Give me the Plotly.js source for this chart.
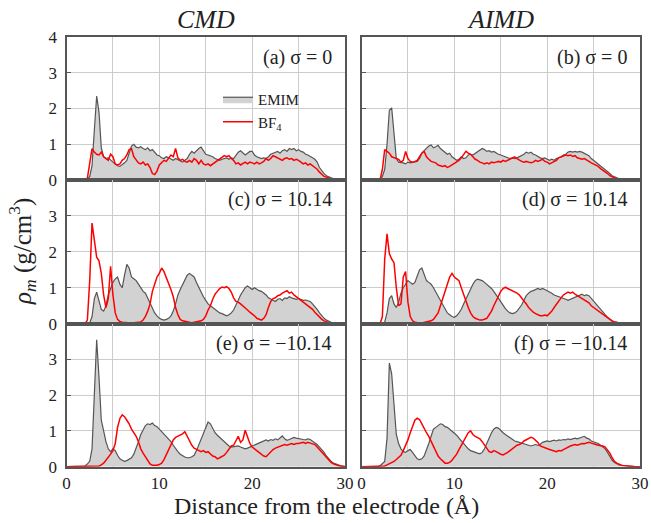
<!DOCTYPE html>
<html>
<head>
<meta charset="utf-8">
<script src="https://cdn.plot.ly/plotly-3.0.1.min.js"></script>
<style>html,body{margin:0;padding:0;background:#fff;}#chart{width:651px;height:523px;}</style>
</head>
<body>
<div id="chart"></div>
<script>
// Distance from the electrode (Å)
const X = [0,0.25,0.5,0.75,1,1.25,1.5,1.75,2,2.25,2.5,2.75,3,3.25,3.5,3.75,4,4.25,4.5,4.75,
5,5.25,5.5,5.75,6,6.25,6.5,6.75,7,7.25,7.5,7.75,8,8.25,8.5,8.75,9,9.25,9.5,9.75,
10,10.25,10.5,10.75,11,11.25,11.5,11.75,12,12.25,12.5,12.75,13,13.25,13.5,13.75,14,14.25,14.5,14.75,
15,15.25,15.5,15.75,16,16.25,16.5,16.75,17,17.25,17.5,17.75,18,18.25,18.5,18.75,19,19.25,19.5,19.75,
20,20.25,20.5,20.75,21,21.25,21.5,21.75,22,22.25,22.5,22.75,23,23.25,23.5,23.75,24,24.25,24.5,24.75,
25,25.25,25.5,25.75,26,26.25,26.5,26.75,27,27.25,27.5,27.75,28,28.25,28.5,28.75,29,29.25,29.5,29.75,30];

// (a) CMD, sigma = 0
const A_EMIM = [0,0,0,0,0,0,0,0,0,0.02,0.1,0.4,1.4,2.35,1.9,0.9,0.65,0.6,0.62,0.55,
0.5,0.45,0.4,0.38,0.42,0.48,0.55,0.75,0.95,1.0,0.92,0.9,0.93,0.88,0.85,0.9,0.82,0.85,0.78,0.7,
0.68,0.62,0.6,0.65,0.62,0.58,0.55,0.6,0.56,0.52,0.5,0.55,0.6,0.72,0.8,0.75,0.82,0.88,0.92,0.8,
0.72,0.7,0.68,0.65,0.6,0.58,0.55,0.58,0.6,0.62,0.58,0.62,0.6,0.7,0.78,0.82,0.75,0.7,0.75,0.8,
0.8,0.7,0.65,0.62,0.6,0.62,0.6,0.65,0.72,0.75,0.78,0.8,0.75,0.82,0.85,0.8,0.88,0.85,0.88,0.82,
0.85,0.8,0.78,0.72,0.7,0.65,0.62,0.58,0.5,0.35,0.25,0.18,0.12,0.08,0.06,0.04,0.03,0.02,0.01,0,0];
const A_BF4 = [0,0,0,0,0,0,0,0,0,0.05,0.5,0.88,0.78,0.72,0.7,0.78,0.65,0.6,0.55,0.72,
0.65,0.45,0.42,0.45,0.55,0.6,0.7,0.85,0.88,0.65,0.55,0.48,0.45,0.5,0.42,0.45,0.35,0.18,0.15,0.25,
0.42,0.5,0.55,0.52,0.6,0.7,0.65,0.88,0.62,0.55,0.58,0.52,0.5,0.55,0.5,0.6,0.55,0.45,0.55,0.45,
0.42,0.45,0.4,0.45,0.48,0.55,0.6,0.65,0.68,0.65,0.68,0.6,0.55,0.45,0.48,0.42,0.45,0.5,0.45,0.5,
0.48,0.45,0.5,0.45,0.48,0.52,0.6,0.55,0.6,0.68,0.65,0.62,0.6,0.55,0.6,0.62,0.58,0.6,0.55,0.58,
0.55,0.5,0.45,0.48,0.42,0.45,0.4,0.35,0.3,0.22,0.15,0.1,0.08,0.05,0.03,0.02,0.01,0,0,0,0];

// (b) AIMD, sigma = 0
const B_EMIM = [0,0,0,0,0,0,0,0,0.02,0.1,0.3,1.0,1.95,2.02,1.2,0.6,0.5,0.5,0.48,0.45,
0.5,0.48,0.5,0.5,0.52,0.6,0.75,0.82,0.88,0.95,0.98,0.9,0.93,0.97,0.88,0.82,0.78,0.72,0.75,0.65,
0.6,0.55,0.58,0.65,0.6,0.62,0.7,0.72,0.7,0.75,0.8,0.85,0.88,0.85,0.8,0.82,0.78,0.8,0.75,0.72,
0.7,0.68,0.65,0.62,0.6,0.62,0.6,0.62,0.65,0.68,0.72,0.78,0.75,0.78,0.72,0.7,0.65,0.62,0.6,0.62,
0.58,0.55,0.58,0.55,0.6,0.62,0.65,0.7,0.72,0.78,0.8,0.78,0.8,0.78,0.8,0.78,0.75,0.72,0.68,0.6,
0.55,0.5,0.45,0.4,0.35,0.3,0.25,0.18,0.12,0.08,0.06,0.04,0.03,0.02,0.01,0.01,0,0,0,0,0];
const B_BF4 = [0,0,0,0,0,0,0,0,0,0.3,0.85,0.8,0.75,0.65,0.62,0.6,0.58,0.5,0.55,0.8,
0.6,0.52,0.5,0.52,0.55,0.65,0.75,0.8,0.65,0.58,0.52,0.5,0.48,0.42,0.4,0.38,0.4,0.35,0.38,0.42,
0.45,0.5,0.55,0.62,0.72,0.8,0.75,0.72,0.65,0.58,0.55,0.5,0.48,0.45,0.48,0.45,0.5,0.48,0.5,0.52,
0.5,0.55,0.52,0.55,0.58,0.62,0.65,0.6,0.55,0.52,0.5,0.52,0.5,0.48,0.5,0.55,0.52,0.55,0.58,0.52,
0.5,0.45,0.48,0.5,0.55,0.62,0.65,0.68,0.7,0.68,0.7,0.66,0.68,0.62,0.6,0.58,0.6,0.55,0.52,0.48,
0.45,0.42,0.38,0.32,0.28,0.22,0.18,0.12,0.08,0.06,0.04,0.03,0.02,0.02,0.01,0.01,0,0,0,0,0];

// (c) CMD, sigma = 10.14
const C_EMIM = [0,0,0,0,0,0,0,0,0,0,0.02,0.2,0.7,0.88,0.6,0.4,0.35,0.5,0.8,1.0,
1.15,1.25,1.3,1.1,1.0,1.35,1.65,1.55,1.3,1.25,1.2,1.1,1.0,0.9,0.85,0.7,0.55,0.42,0.3,0.22,
0.15,0.12,0.1,0.12,0.15,0.22,0.35,0.55,0.8,0.95,1.1,1.25,1.35,1.4,1.35,1.3,1.15,1.0,0.85,0.75,
0.65,0.55,0.5,0.45,0.4,0.35,0.3,0.28,0.25,0.22,0.25,0.3,0.38,0.5,0.65,0.8,0.92,1.0,1.05,1.0,
0.95,1.0,0.95,0.92,0.9,0.85,0.8,0.72,0.68,0.65,0.62,0.68,0.7,0.65,0.72,0.7,0.75,0.72,0.7,0.68,
0.7,0.68,0.65,0.66,0.65,0.62,0.55,0.48,0.4,0.3,0.22,0.15,0.1,0.06,0.04,0.03,0.02,0.01,0,0,0];
const C_BF4 = [0,0,0,0,0,0,0,0,0,0.1,1.2,2.8,2.3,1.85,1.75,1.4,0.8,0.45,0.7,1.6,
0.8,0.3,0.12,0.06,0.04,0.03,0.02,0.02,0.02,0.03,0.04,0.04,0.05,0.1,0.2,0.35,0.55,0.9,1.1,1.3,
1.4,1.55,1.45,1.3,1.15,0.95,0.75,0.45,0.25,0.12,0.08,0.06,0.05,0.04,0.03,0.04,0.05,0.06,0.08,0.12,
0.22,0.38,0.5,0.68,0.82,0.9,0.98,1.02,1.0,1.03,0.98,0.88,0.72,0.62,0.6,0.55,0.5,0.45,0.38,0.32,
0.28,0.22,0.15,0.12,0.1,0.15,0.25,0.45,0.62,0.7,0.72,0.78,0.8,0.85,0.88,0.92,0.85,0.88,0.8,0.75,
0.7,0.65,0.6,0.55,0.5,0.45,0.4,0.32,0.25,0.18,0.12,0.08,0.05,0.03,0.02,0.01,0,0,0,0,0];

// (d) AIMD, sigma = 10.14
const D_EMIM = [0,0,0,0,0,0,0,0,0,0,0.05,0.3,0.7,0.78,0.55,0.45,0.6,0.85,1.0,1.1,
1.2,1.15,1.1,1.15,1.3,1.5,1.55,1.35,1.2,1.15,1.1,1.0,0.88,0.75,0.62,0.5,0.4,0.3,0.25,0.2,
0.18,0.22,0.3,0.4,0.55,0.7,0.85,1.0,1.1,1.2,1.24,1.22,1.2,1.15,1.1,1.05,0.98,0.9,0.8,0.7,
0.6,0.5,0.42,0.35,0.3,0.28,0.3,0.35,0.42,0.52,0.65,0.78,0.85,0.9,0.92,0.95,0.98,0.95,0.98,0.95,
0.92,0.9,0.85,0.8,0.78,0.75,0.72,0.7,0.68,0.65,0.68,0.7,0.72,0.75,0.78,0.82,0.78,0.8,0.78,0.7,
0.62,0.55,0.48,0.4,0.32,0.25,0.18,0.12,0.08,0.05,0.03,0.02,0.01,0.01,0,0,0,0,0,0,0];
const D_BF4 = [0,0,0,0,0,0,0,0,0,0.2,1.8,2.5,1.95,1.8,1.7,1.0,0.5,0.55,1.3,1.45,
0.6,0.2,0.08,0.04,0.02,0.02,0.02,0.03,0.04,0.06,0.08,0.12,0.2,0.3,0.5,0.7,0.9,1.15,1.3,1.4,
1.3,1.25,1.2,1.0,0.8,0.65,0.45,0.3,0.2,0.15,0.12,0.1,0.1,0.12,0.15,0.25,0.35,0.5,0.65,0.8,
0.9,0.98,1.02,0.98,0.95,0.92,0.9,0.85,0.8,0.72,0.65,0.55,0.45,0.38,0.32,0.28,0.25,0.22,0.22,0.24,
0.22,0.28,0.35,0.45,0.55,0.65,0.72,0.8,0.85,0.88,0.85,0.88,0.82,0.78,0.75,0.7,0.68,0.62,0.58,0.5,
0.45,0.4,0.35,0.3,0.25,0.2,0.15,0.1,0.07,0.05,0.03,0.02,0.01,0,0,0,0,0,0,0,0];

// (e) CMD, sigma = -10.14
const E_EMIM = [0,0,0,0,0,0,0,0,0.02,0.08,0.15,0.5,2.2,3.55,2.5,1.3,1.0,0.7,0.5,0.42,
0.5,0.45,0.32,0.22,0.18,0.15,0.17,0.2,0.25,0.35,0.5,0.7,0.9,1.05,1.15,1.2,1.18,1.22,1.15,1.12,
1.05,0.98,0.92,0.85,0.78,0.7,0.6,0.5,0.42,0.35,0.3,0.27,0.25,0.25,0.28,0.32,0.45,0.6,0.8,0.95,
1.1,1.25,1.2,1.05,0.95,0.88,0.82,0.75,0.7,0.62,0.58,0.55,0.56,0.55,0.58,0.55,0.52,0.5,0.52,0.55,
0.58,0.62,0.65,0.68,0.7,0.72,0.75,0.72,0.76,0.74,0.78,0.75,0.8,0.86,0.78,0.74,0.76,0.8,0.82,0.8,
0.78,0.78,0.76,0.75,0.78,0.76,0.72,0.68,0.62,0.55,0.48,0.4,0.3,0.22,0.15,0.1,0.07,0.05,0.03,0.02,0.01];
const E_BF4 = [0,0,0,0,0,0,0,0,0,0,0,0,0,0,0.02,0.05,0.1,0.18,0.25,0.35,
0.45,0.65,1.1,1.35,1.45,1.4,1.3,1.2,1.05,0.95,0.85,0.7,0.5,0.38,0.28,0.18,0.08,0.04,0.03,0.04,
0.06,0.1,0.2,0.35,0.5,0.62,0.75,0.82,0.85,0.9,0.92,0.98,0.85,0.72,0.6,0.52,0.48,0.45,0.42,0.45,
0.4,0.42,0.35,0.3,0.28,0.22,0.25,0.28,0.32,0.4,0.5,0.58,0.6,0.72,0.85,0.68,0.75,1.02,0.8,0.65,
0.55,0.5,0.45,0.4,0.35,0.3,0.28,0.35,0.42,0.48,0.52,0.55,0.58,0.6,0.62,0.6,0.62,0.65,0.62,0.65,
0.65,0.66,0.68,0.65,0.68,0.66,0.65,0.62,0.55,0.48,0.4,0.32,0.25,0.18,0.12,0.08,0.05,0.03,0.02,0.01,0];

// (f) AIMD, sigma = -10.14
const F_EMIM = [0,0,0,0,0,0,0,0,0.03,0.08,0.15,0.8,2.9,2.6,1.6,0.9,0.65,0.5,0.42,0.4,
0.45,0.48,0.4,0.3,0.22,0.2,0.22,0.3,0.45,0.65,0.85,1.05,1.1,1.15,1.2,1.18,1.12,1.1,1.05,1.0,
0.95,0.88,0.8,0.72,0.65,0.55,0.5,0.45,0.42,0.4,0.38,0.36,0.4,0.5,0.65,0.82,0.95,1.05,1.1,1.08,
1.0,0.95,0.9,0.85,0.8,0.75,0.72,0.7,0.68,0.65,0.62,0.6,0.6,0.58,0.6,0.62,0.6,0.62,0.68,0.7,
0.72,0.7,0.72,0.74,0.72,0.75,0.74,0.76,0.75,0.78,0.76,0.78,0.8,0.78,0.8,0.82,0.85,0.8,0.78,0.72,
0.7,0.68,0.65,0.6,0.55,0.5,0.4,0.28,0.18,0.12,0.08,0.05,0.04,0.03,0.02,0.01,0,0,0,0,0];
const F_BF4 = [0,0,0,0,0,0,0,0,0,0,0.02,0.05,0.08,0.12,0.15,0.2,0.25,0.32,0.45,0.58,
0.75,0.95,1.15,1.3,1.36,1.32,1.2,1.05,0.95,0.85,0.7,0.55,0.42,0.3,0.22,0.15,0.1,0.1,0.12,0.18,
0.25,0.35,0.48,0.6,0.72,0.85,0.95,1.0,0.9,0.85,0.82,0.78,0.7,0.6,0.5,0.42,0.4,0.45,0.42,0.38,
0.35,0.33,0.36,0.4,0.45,0.5,0.55,0.6,0.62,0.65,0.72,0.75,0.78,0.82,0.8,0.75,0.68,0.58,0.55,0.52,
0.5,0.48,0.46,0.45,0.42,0.45,0.44,0.48,0.52,0.55,0.58,0.6,0.62,0.6,0.63,0.65,0.64,0.66,0.68,0.66,
0.65,0.62,0.6,0.6,0.58,0.55,0.48,0.38,0.25,0.15,0.1,0.06,0.04,0.03,0.02,0.01,0,0,0,0,0];

const PANEL_LABELS = ['(a) σ = 0','(b) σ = 0','(c) σ = 10.14','(d) σ = 10.14','(e) σ = −10.14','(f) σ = −10.14'];
const COLUMN_TITLES = ['CMD','AIMD'];
const X_TICKS = [0,10,20,30];
const Y_TICKS_TOP = [0,1,2,3,4];
const Y_TICKS = [0,1,2,3];
const SERIES_NAMES = ['EMIM','BF<sub>4</sub>'];

const EMIM = [A_EMIM,B_EMIM,C_EMIM,D_EMIM,E_EMIM,F_EMIM];
const BF4 = [A_BF4,B_BF4,C_BF4,D_BF4,E_BF4,F_BF4];

const W = 651, H = 523;
const COLS = [[66.5,345],[361.5,640]];
const ROWS = [[37,180],[180,323.7],[323.7,466.7]];
const px = v => v / W;
const py = v => 1 - v / H;
const FONT = '"Liberation Serif", "Times New Roman", serif';

const data = [];
const layout = {
  width: W, height: H,
  margin: {l:0, r:0, t:0, b:0},
  paper_bgcolor: '#fff', plot_bgcolor: '#fff',
  showlegend: true,
  legend: {x: px(218), y: py(83), xanchor:'left', yanchor:'top', bgcolor:'rgba(0,0,0,0)',
           font:{family:FONT, size:15, color:'#222'}, tracegroupgap:0, itemwidth:30},
  annotations: []
};

for (let i = 0; i < 6; i++) {
  const col = i % 2, row = Math.floor(i / 2);
  const n = i === 0 ? '' : String(i + 1);
  data.push({x: X, y: EMIM[i], type:'scatter', mode:'lines', fill:'tozeroy',
    fillcolor:'#d2d2d2', line:{color:'#555555', width:1.2},
    name: SERIES_NAMES[0], showlegend: i === 0, xaxis:'x'+n, yaxis:'y'+n, hoverinfo:'skip'});
  data.push({x: X, y: BF4[i], type:'scatter', mode:'lines',
    line:{color:'#ff0000', width:1.5},
    name: SERIES_NAMES[1], showlegend: i === 0, xaxis:'x'+n, yaxis:'y'+n, hoverinfo:'skip'});

  layout['xaxis'+n] = {
    domain:[px(COLS[col][0]), px(COLS[col][1])], anchor:'y'+n, range:[0,30],
    tickvals: X_TICKS, ticktext: X_TICKS.map(v => String(v)), showticklabels: row === 2,
    showgrid:true, gridcolor:'#cccccc', gridwidth:1, zeroline:false,
    minor:{dtick:5, tick0:0, showgrid:true, gridcolor:'#cccccc', gridwidth:1, ticks:''},
    showline:true, mirror:true, linecolor:'#555555', linewidth:2, ticks:'',
    ticklabelstandoff:0,
    tickfont:{family:FONT, size:17, color:'#222'}, fixedrange:true
  };
  const yt = row === 0 ? Y_TICKS_TOP : Y_TICKS;
  layout['yaxis'+n] = {
    domain:[py(ROWS[row][1]), py(ROWS[row][0])], anchor:'x'+n, range:[0,4],
    tickvals: yt, ticktext: yt.map(v => String(v)), showticklabels: col === 0,
    showgrid:true, gridcolor:'#cccccc', gridwidth:1, zeroline:false,
    showline:true, mirror:true, linecolor:'#555555', linewidth:2,
    ticks:'inside', ticklen:4, tickcolor:'#555555', ticklabelstandoff:4,
    tickfont:{family:FONT, size:17, color:'#222'}, fixedrange:true
  };
  layout.annotations.push({xref:'paper', yref:'paper', x: px(COLS[col][1]-11), y: py(ROWS[row][0]+20),
    xanchor:'right', yanchor:'middle', showarrow:false, text: PANEL_LABELS[i],
    font:{family:FONT, size:20, color:'#222'}});
}
COLUMN_TITLES.forEach((t, c) => {
  layout.annotations.push({xref:'paper', yref:'paper', x: px((COLS[c][0]+COLS[c][1])/2), y: py(20),
    xanchor:'center', yanchor:'middle', showarrow:false, text:'<i>'+t+'</i>',
    font:{family:FONT, size:26, color:'#222'}});
});
layout.annotations.push({xref:'paper', yref:'paper', x: px(326), y: py(506), xanchor:'center', yanchor:'middle',
  showarrow:false, text:'Distance from the electrode (Å)', font:{family:FONT, size:24, color:'#222'}});
layout.annotations.push({xref:'paper', yref:'paper', x: px(22), y: py(252), xanchor:'center', yanchor:'middle',
  showarrow:false, textangle:-90, text:'<i>ρ<sub>m</sub></i> (g/cm<sup>3</sup>)', font:{family:FONT, size:25, color:'#222'}});

Plotly.newPlot('chart', data, layout, {displayModeBar:false, staticPlot:true});
</script>
</body>
</html>
